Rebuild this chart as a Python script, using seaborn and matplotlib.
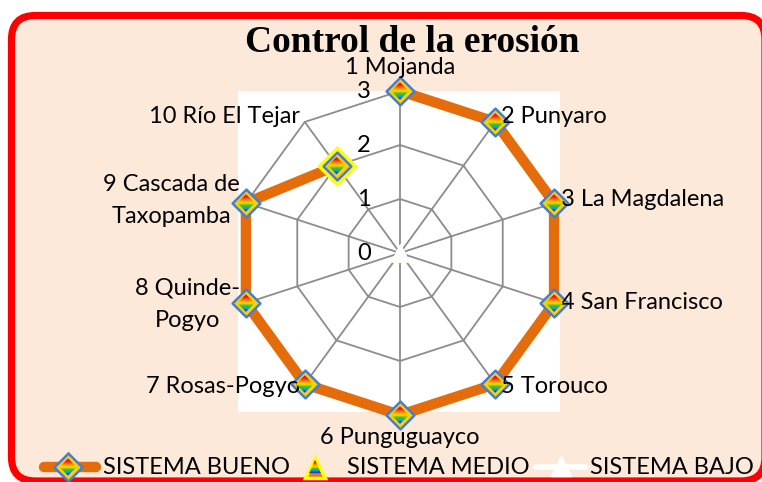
import numpy as np
import pandas as pd
import matplotlib
matplotlib.use("Agg")
import matplotlib.pyplot as plt
import seaborn as sns
from matplotlib.patches import FancyBboxPatch, Rectangle, Polygon
from matplotlib.colors import LinearSegmentedColormap

sns.set_theme(style="white")
plt.rcParams["font.family"] = ["Lato", "DejaVu Sans"]
plt.rcParams["text.color"] = "black"

# --- data ---------------------------------------------------------------
categories = ["1 Mojanda", "2 Punyaro", "3 La Magdalena", "4 San Francisco",
              "5 Torouco", "6 Punguguayco", "7 Rosas-Pogyo", "8 Quinde-\nPogyo",
              "9 Cascada de\nTaxopamba", "10 Río El Tejar"]
sistema_bueno = [3, 3, 3, 3, 3, 3, 3, 3, 3, 2]
sistema_medio = [0, 0, 0, 0, 0, 0, 0, 0, 0, 2]
sistema_bajo = [0, 0, 0, 0, 0, 0, 0, 0, 0, 0]
radial_ticks = [0, 1, 2, 3]
title = "Control de la erosión"
series_names = ["SISTEMA BUENO", "SISTEMA MEDIO", "SISTEMA BAJO"]

W, H = 762, 482
ORANGE = "#E46C0A"
GRID = "#8C8C8C"
PEACH = "#FDE9D9"
EDGE_BLUE = "#4A7EC4"
FS = 17

n = len(categories)
theta = np.linspace(0, 2 * np.pi, n, endpoint=False)


def closed(vals):
    return np.append(theta, theta[0]), np.append(vals, vals[0])


fig = plt.figure(figsize=(W / 100, H / 100), dpi=100)
fig.patch.set_facecolor("white")

# background: rounded red frame and white plot area, in pixel units
bg = fig.add_axes([0, 0, 1, 1], zorder=0)
bg.set_xlim(0, W)
bg.set_ylim(H, 0)
bg.axis("off")
bg.add_patch(FancyBboxPatch((11.5, 15.5), 765 - 11.5, 481 - 15.5,
                            boxstyle="round,pad=0,rounding_size=24",
                            facecolor=PEACH, edgecolor="#FF0000", lw=5.2))
bg.add_patch(Rectangle((238, 91), 322, 321, facecolor="white", edgecolor="none"))

# radar axes
R = 162
ax = fig.add_axes([(400 - R) / W, (H - 253 - R) / H, 2 * R / W, 2 * R / H],
                  projection="polar", zorder=1)
ax.set_facecolor("none")
ax.set_theta_offset(np.pi / 2)
ax.set_theta_direction(-1)
ax.set_ylim(0, 3)
ax.grid(False)
ax.spines["polar"].set_visible(False)
ax.set_xticks([])
ax.set_yticks([])

# polygon grid
for r in radial_ticks[1:]:
    t, v = closed(np.full(n, r))
    ax.plot(t, v, color=GRID, lw=1.3, zorder=1)
for t in theta:
    ax.plot([t, t], [0, 3], color=GRID, lw=1.3, zorder=1)

for r in radial_ticks:
    ax.annotate(str(r), xy=(0, r), xytext=(-29 * 0.72, -1 * 0.72), textcoords="offset points",
                ha="right", va="center", fontsize=FS, color="black")

# series
t_b, v_b = closed(sistema_bueno)
df_b = pd.DataFrame({"theta": t_b, "valor": v_b})
sns.lineplot(data=df_b, x="theta", y="valor", sort=False, ax=ax, color=ORANGE,
             lw=7.5, zorder=3, solid_joinstyle="miter", legend=False)

t_z, v_z = closed(sistema_bajo)
ax.plot(t_z, v_z, color="white", lw=3, zorder=3)

df_m = pd.DataFrame({"theta": theta, "valor": sistema_medio})
medio_on = df_m[df_m["valor"] > 0]
medio_zero = df_m[df_m["valor"] == 0]
sns.scatterplot(data=medio_on, x="theta", y="valor", ax=ax, marker="D", s=400,
                color="#FFFF00", edgecolor="#FFFF00", linewidth=1, zorder=4, legend=False)
sns.scatterplot(data=medio_zero, x="theta", y="valor", ax=ax, marker="^", s=130,
                color="#F0E060", edgecolor="#FFFF00", linewidth=1.0, zorder=4, legend=False)
ax.scatter(theta, sistema_bajo, marker="^", s=130, color="white", edgecolor="white",
           linewidth=1.2, zorder=5)

df_p = pd.DataFrame({"theta": theta, "valor": sistema_bueno})
sns.scatterplot(data=df_p, x="theta", y="valor", ax=ax, marker="D", s=200,
                color="#FFD000", edgecolor=EDGE_BLUE, linewidth=1.8, zorder=6, legend=False)
ax.set_xlabel("")
ax.set_ylabel("")

# the outer ring sits on the axes edge: keep lines and markers unclipped
for art in ax.lines + ax.collections:
    art.set_clip_on(False)

# category labels
offsets = [(0, 23, "center"), (6, 5, "left"), (7, 3, "left"), (7, 1, "left"),
           (6, -2, "left"), (0, -22, "center"), (-5, -2, "right"), (-6, -1, "right"),
           (-6, 2, "right"), (-5, 5, "right")]
for t, lab, (dx, dy, ha) in zip(theta, categories, offsets):
    ax.annotate(lab, xy=(t, 3), xytext=(dx * 0.72, dy * 0.72), textcoords="offset points",
                ha=ha, va="center", ma="center", fontsize=FS, color="black",
                linespacing=1.65, zorder=7)

# rainbow fill for the markers: horizontal colour bands cut to the marker shape
rainbow = LinearSegmentedColormap.from_list(
    "rb", ["#B000C8", "#FF0040", "#FF8000", "#FFE000", "#40C020", "#00A0E0", "#1020E0"])
ov = fig.add_axes([0, 0, 1, 1], zorder=2)
ov.set_xlim(0, W)
ov.set_ylim(0, H)
ov.axis("off")


def clip_half(poly, yc, keep_above):
    out = []
    m = len(poly)
    for i in range(m):
        p, q = poly[i], poly[(i + 1) % m]
        pin = (p[1] >= yc) if keep_above else (p[1] <= yc)
        qin = (q[1] >= yc) if keep_above else (q[1] <= yc)
        if pin:
            out.append(p)
        if pin != qin:
            f = (yc - p[1]) / (q[1] - p[1])
            out.append((p[0] + f * (q[0] - p[0]), yc))
    return out


def rainbow_fill(verts, bands=16):
    verts = [tuple(v) for v in verts]
    ys = [v[1] for v in verts]
    top, bot = max(ys), min(ys)
    edges = np.linspace(top, bot, bands + 1)
    for k in range(bands):
        piece = clip_half(clip_half(verts, edges[k + 1], True), edges[k], False)
        if len(piece) >= 3:
            c = rainbow((k + 0.5) / bands)
            ov.add_patch(Polygon(piece, closed=True, facecolor=c, edgecolor=c,
                                 lw=0.3, zorder=3))


to_px = ov.transData.inverted()
hs = 8.4
for t, v in zip(theta, sistema_bueno):
    x, y = to_px.transform(ax.transData.transform((t, v)))
    rainbow_fill([(x, y + hs), (x + hs, y), (x, y - hs), (x - hs, y)])

# legend, laid out in pixel units along the bottom of the frame
ly = 467
bg.plot([44, 96], [ly, ly], color=ORANGE, lw=7.5, solid_capstyle="round")
bg.plot([68], [ly], marker="D", ms=14, mfc="#FFD000", mec=EDGE_BLUE, mew=1.8)
bg.plot([315], [ly + 1], marker="^", ms=15, mfc="#E08020", mec="#FFFF00", mew=2.5)
bg.plot([536, 586], [ly, ly], color="white", lw=4, solid_capstyle="round")
bg.plot([561], [ly - 1], marker="^", ms=15, mfc="white", mec="white")
for x, name in zip([103, 347, 590], series_names):
    bg.text(x, ly, name, ha="left", va="center", fontsize=FS, color="black")
lh = 8.2
rainbow_fill([(68, H - ly + lh), (68 + lh, H - ly), (68, H - ly - lh), (68 - lh, H - ly)])
rainbow_fill([(315, H - ly + 6.5), (315 + 5.5, H - ly - 6), (315 - 5.5, H - ly - 6)], bands=10)

fig.text(412 / W, 1 - 42 / H, title, ha="center", va="center", fontsize=27,
         fontweight="bold", family="Liberation Serif", color="black")

fig.savefig("out.png", dpi=100, facecolor=fig.get_facecolor())
